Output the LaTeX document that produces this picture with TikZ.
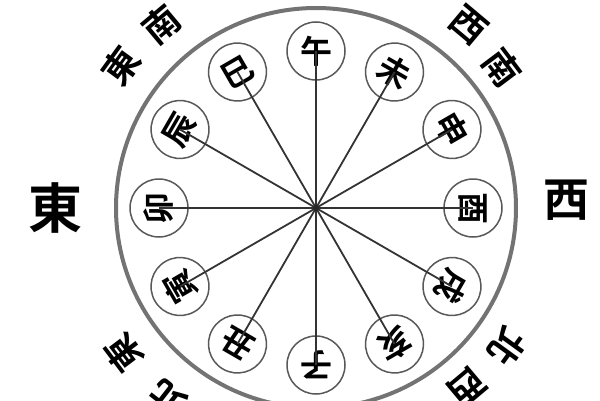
\documentclass[tikz,border=0pt]{standalone}
\usepackage{fontspec}
\newfontfamily\cjk{Noto Sans CJK TC Bold}
\begin{document}
\begin{tikzpicture}[x=1pt,y=1pt,
  branch/.style={circle, draw=black!65, line width=1.5pt, fill=white, minimum size=58pt, inner sep=0pt, font=\cjk\fontsize{32}{32}\selectfont},
  spoke/.style={draw=black!80, line width=1.8pt},
  outer/.style={font=\cjk\fontsize{36}{36}\selectfont, inner sep=0pt},
  rim/.style={draw=black!55, line width=4pt}]
\useasboundingbox (0,0) rectangle (600,400);
\fill[white] (0,0) rectangle (600,400);
\begin{scope}[shift={(316,192)}]
  \coordinate (c) at (0,0);
  \draw[rim] (c) circle (200);
  \foreach \n/\a/\t in {wu/90/午, wei/60/未, shen/30/申, you/0/酉, xu/-30/戌, hai/-60/亥, zi/-90/子, chou/-120/丑, yin/-150/寅, mao/180/卯, chen/150/辰, si/120/巳}{
    \node[branch, rotate=\a-90] (\n) at (\a:157) {\t};
  }
  \foreach \n in {wu, wei, shen, you, xu, hai, zi, chou, yin, mao, chen, si}{
    \draw[spoke] (c) -- (\n.center);
  }
  \fill[black!85] (c) circle (3);
  % outer direction labels
  \node[outer, font=\cjk\fontsize{54}{54}\selectfont] (east) at (-261,0) {東};
  \node[outer, font=\cjk\fontsize{46}{46}\selectfont] (west) at (250,8) {西};
  \node[outer, rotate=54] (se1) at (144:241) {東};
  \node[outer, rotate=40] (se2) at (130:240) {南};
  \node[outer, rotate=-40] (sw1) at (50:238) {西};
  \node[outer, rotate=-53] (sw2) at (37:233) {南};
  \node[outer, rotate=-126] (nw1) at (-36:236) {北};
  \node[outer, rotate=-140] (nw2) at (-50:234) {西};
  \node[outer, rotate=127] (ne1) at (-143:241) {東};
  \node[outer, rotate=142] (ne2) at (-128:242) {北};
\end{scope}
\end{tikzpicture}
\end{document}
